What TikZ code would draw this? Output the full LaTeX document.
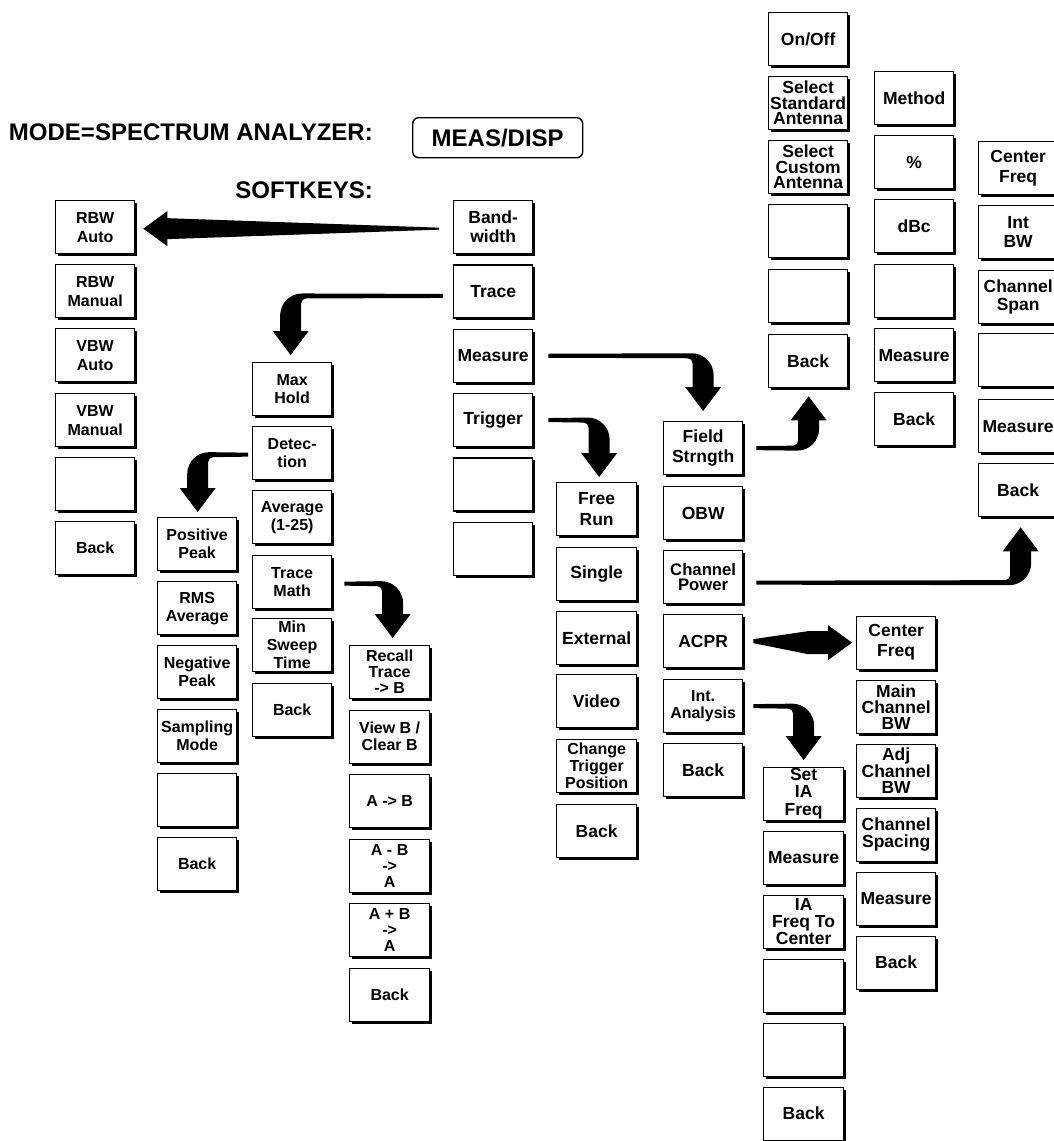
\documentclass[tikz,border=0pt]{standalone}
\usepackage{fontspec}
\setmainfont{Liberation Sans}
\usetikzlibrary{calc,shadows}
\tikzset{
  key/.style={draw, line width=1.3pt, fill=white, minimum width=79pt, minimum height=53pt,
    inner sep=0pt, align=center, anchor=north west,
    font=\bfseries\fontsize{17.5}{19}\selectfont,
    drop shadow={shadow xshift=2.5pt, shadow yshift=-2.5pt, fill=black, opacity=1}},
  wide/.style={minimum width=80pt},
  lsp/.style={font=\bfseries\fontsize{17.5}{#1}\selectfont},
  smallkey/.style={font=\bfseries\fontsize{16}{#1}\selectfont},
  smallkey/.default=18,
  title/.style={font=\bfseries\fontsize{24}{28}\selectfont, inner sep=0pt, anchor=base east},
  hardkey/.style={draw, line width=1.4pt, rounded corners=6pt, minimum width=170pt, minimum height=40pt,
    inner sep=0pt, anchor=north west, font=\bfseries\fontsize{24}{28}\selectfont}
}
% fat L-shaped arrow: #1 tail, #2 tip, #3 = +1 if tail right of tip else -1,
% #4 = -1 if tip below tail else +1
\newcommand\bentarr[4]{%
  \fill let \p1=(#1), \p2=(#2) in
  ({\x1},{\y1-(#4)*2pt}) -- ({\x2+(#3)*11.5pt},{\y1-(#4)*2.5pt})
  .. controls ({\x2-(#3)*0.64pt},{\y1-(#4)*2.5pt}) and ({\x2-(#3)*10.5pt},{\y1+(#4)*7.36pt})
  .. ({\x2-(#3)*10.5pt},{\y1+(#4)*19.5pt})
  -- ({\x2-(#3)*10.5pt},{\y2-(#4)*24pt}) -- ({\x2-(#3)*18pt},{\y2-(#4)*24pt})
  -- (\x2,\y2)
  -- ({\x2+(#3)*18pt},{\y2-(#4)*24pt}) -- ({\x2+(#3)*10.5pt},{\y2-(#4)*24pt})
  -- ({\x2+(#3)*10.5pt},{\y1+(#4)*7.5pt})
  .. controls ({\x2+(#3)*10.5pt},{\y1+(#4)*4.74pt}) and ({\x2+(#3)*12.74pt},{\y1+(#4)*2.5pt})
  .. ({\x2+(#3)*15.5pt},{\y1+(#4)*2.5pt})
  -- ({\x1},{\y1+(#4)*2pt}) -- cycle;}
% straight tapering arrow: #1 tail, #2 tip, #3 = +1 if tail right of tip, #4 tail half width,
% #5 shaft half width, #6 length of the constant part of the shaft
\newcommand\wedgearr[6]{%
  \fill let \p1=(#1), \p2=(#2) in
  ({\x1},{\y1+#4}) -- ({\x2+(#3)*(24pt+#6)},{\y2+#5}) -- ({\x2+(#3)*24pt},{\y2+#5})
  -- ({\x2+(#3)*24pt},{\y2+17.5pt}) -- (\x2,\y2) -- ({\x2+(#3)*24pt},{\y2-17.5pt})
  -- ({\x2+(#3)*24pt},{\y2-#5}) -- ({\x2+(#3)*(24pt+#6)},{\y2-#5}) -- ({\x1},{\y1-#4}) -- cycle;}
\begin{document}
\begin{tikzpicture}[x=1pt,y=-1pt]
\useasboundingbox (0,0) rectangle (1053,1141);
\fill[white] (0,0) rectangle (1053,1141);

% headings
\node[title] (mode) at (373,140) {MODE=SPECTRUM ANALYZER:};
\node[title] (soft) at (373,198) {SOFTKEYS:};
\node[hardkey] (measdisp) at (412,117) {MEAS/DISP};

% bandwidth submenu
\node[key,smallkey=19] (rbwauto) at (55,200) {RBW\\Auto};
\node[key,smallkey=19] (rbwman)  at (55,264) {RBW\\Manual};
\node[key,smallkey=19] (vbwauto) at (55,328) {VBW\\Auto};
\node[key,smallkey=19] (vbwman)  at (55,393) {VBW\\Manual};
\node[key] (bwe)     at (55,457) {};
\node[key,smallkey] (bwback)  at (55,521) {Back};

% main softkeys
\node[key] (bw)    at (453,200)   {Band-\\width};
\node[key] (trace) at (453,264.3) {Trace};
\node[key] (meas)  at (453,328.6) {Measure};
\node[key] (trig)  at (453,392.9) {Trigger};
\node[key] (mk5)   at (453,457.2) {};
\node[key] (mk6)   at (453,521.5) {};

% trace submenu
\node[key,smallkey] (maxhold)  at (252,362) {Max\\Hold};
\node[key,smallkey] (detect)   at (252,426) {Detec-\\tion};
\node[key,smallkey] (avg)      at (252,490) {Average\\(1-25)};
\node[key,smallkey] (tmath)    at (252,555) {Trace\\Math};
\node[key,smallkey] (minsweep) at (252,618) {Min\\Sweep\\Time};
\node[key,smallkey] (trback)   at (252,683) {Back};

% detection submenu
\node[key,smallkey] (pospk) at (157,517) {Positive\\Peak};
\node[key,smallkey] (rms)   at (157,581) {RMS\\Average};
\node[key,smallkey] (negpk) at (157,645) {Negative\\Peak};
\node[key,smallkey] (samp)  at (157,709) {Sampling\\Mode};
\node[key] (dete)  at (157,773) {};
\node[key,smallkey] (deback) at (157,837) {Back};

% trace math submenu
\node[key,wide,smallkey=16] (recall) at (349,645)   {Recall\\Trace\\-> B};
\node[key,wide,smallkey=17] (viewb)  at (349,709.5) {View B /\\Clear B};
\node[key,wide,smallkey] (atob)   at (349,774)   {A -> B};
\node[key,wide,smallkey=16] (amb) at (349,838.5) {A - B\\->\\A};
\node[key,wide,smallkey=16] (apb) at (349,903)   {A + B\\->\\A};
\node[key,wide,smallkey] (tmback) at (349,967.5) {Back};

% trigger submenu
\node[key,wide,lsp=20.5] (freerun)  at (556,482) {Free\\Run};
\node[key,wide] (single)   at (556,547) {Single};
\node[key,wide] (external) at (556,611) {External};
\node[key,wide] (video)    at (556,674) {Video};
\node[key,wide,smallkey=17] (chtrig) at (556,739) {Change\\Trigger\\Position};
\node[key,wide] (tgback)   at (556,804) {Back};

% measure submenu
\node[key,lsp=20.5] (field) at (663,421) {Field\\Strngth};
\node[key] (obw)   at (663,486) {OBW};
\node[key,font=\bfseries\fontsize{16.7}{15}\selectfont] (chpow) at (663,550) {Channel\\Power};
\node[key] (acpr)  at (663,614) {ACPR};
\node[key,smallkey=17] (intan) at (663,679) {Int.\\Analysis};
\node[key] (msback) at (663,743) {Back};

% field strength submenu
\node[key] (onoff)  at (768,12)  {On/Off};
\node[key,lsp=15.5] (selstd) at (768,76)  {Select\\Standard\\Antenna};
\node[key,lsp=15.5] (selcus) at (768,140) {Select\\Custom\\Antenna};
\node[key] (fse1)   at (768,204) {};
\node[key] (fse2)   at (768,269) {};
\node[key] (fsback) at (768,334) {Back};

% OBW submenu
\node[key] (method) at (874,71)  {Method};
\node[key] (pct)    at (874,135) {\%};
\node[key] (dbc)    at (874,199) {dBc};
\node[key] (obe)    at (874,263.5) {};
\node[key] (obmeas) at (874,328) {Measure};
\node[key] (obback) at (874,392) {Back};

% channel power submenu
\node[key,lsp=20] (cpcf)   at (978,141) {Center\\Freq};
\node[key] (intbw)  at (978,205) {Int\\BW};
\node[key,lsp=18.3] (chspan) at (978,270) {Channel\\Span};
\node[key] (cpe)    at (978,333) {};
\node[key] (cpmeas) at (978,399) {Measure};
\node[key] (cpback) at (978,463) {Back};

% ACPR submenu
\node[key,lsp=20] (acf)    at (856,615.5) {Center\\Freq};
\node[key,lsp=16] (mainbw) at (856,679.5) {Main\\Channel\\BW};
\node[key,lsp=16] (adjbw)  at (856,743.5) {Adj\\Channel\\BW};
\node[key,lsp=17] (chsp)   at (856,807.5) {Channel\\Spacing};
\node[key] (acmeas) at (856,871.5) {Measure};
\node[key] (acback) at (856,935.5) {Back};

% interference analysis submenu
\node[key,wide,lsp=17.5] (setia)  at (763,766.5) {Set\\IA\\Freq};
\node[key,wide] (iameas) at (763,830.5) {Measure};
\node[key,wide,lsp=17] (iafc)   at (763,894.5) {IA\\Freq To\\Center};
\node[key,wide] (iae1)   at (763,958.5) {};
\node[key,wide] (iae2)   at (763,1022.5) {};
\node[key,wide] (iaback) at (763,1086.5) {Back};

% connector end points
\coordinate (bwT)  at ([xshift=-14pt,yshift=-1.5pt]bw.west);
\coordinate (bwH)  at ([xshift=8pt,yshift=-1.5pt]rbwauto.east);
\coordinate (trT)  at ([xshift=-10pt,yshift=-4.5pt]trace.west);
\coordinate (trH)  at ([xshift=-1.5pt,yshift=7pt]maxhold.north);
\coordinate (deT)  at ([xshift=-4pt,yshift=-1.5pt]detect.west);
\coordinate (deH)  at ([xshift=0.5pt,yshift=5pt]pospk.north);
\coordinate (tmT)  at ([xshift=12pt,yshift=-1.5pt]tmath.east);
\coordinate (tmH)  at ([xshift=3pt,yshift=7pt]recall.north);
\coordinate (msT)  at ([xshift=15pt]meas.east);
\coordinate (msH)  at ([yshift=10pt]field.north);
\coordinate (tgT)  at ([xshift=15pt]trig.east);
\coordinate (tgH)  at ([xshift=2.5pt,yshift=5pt]freerun.north);
\coordinate (fsT)  at ([xshift=13pt]field.east);
\coordinate (fsH)  at ([xshift=0.5pt,yshift=-8pt]fsback.south);
\coordinate (cpT)  at ([xshift=13pt,yshift=-5.5pt]chpow.east);
\coordinate (cpH)  at ([xshift=2.5pt,yshift=-10pt]cpback.south);
\coordinate (acT)  at ([xshift=10pt]acpr.east);
\coordinate (acH)  at ([xshift=-4pt]acf.west);
\coordinate (iaT)  at ([xshift=10pt]intan.east);
\coordinate (iaH)  at ([yshift=6.5pt]setia.north);

% connectors
\wedgearr{bwT}{bwH}{1}{1pt}{10.5pt}{0pt}
\wedgearr{acT}{acH}{-1}{2pt}{11.5pt}{20pt}
\bentarr{trT}{trH}{1}{-1}
\bentarr{deT}{deH}{1}{-1}
\bentarr{tmT}{tmH}{-1}{-1}
\bentarr{msT}{msH}{-1}{-1}
\bentarr{tgT}{tgH}{-1}{-1}
\bentarr{fsT}{fsH}{-1}{1}
\bentarr{cpT}{cpH}{-1}{1}
\bentarr{iaT}{iaH}{-1}{-1}
\end{tikzpicture}
\end{document}
